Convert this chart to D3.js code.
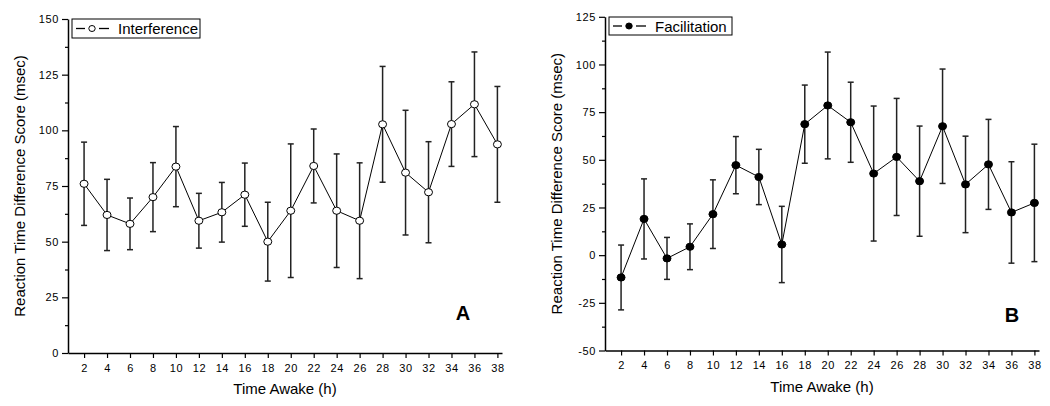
<!DOCTYPE html>
<html>
<head>
<meta charset="utf-8">
<script src="https://cdn.jsdelivr.net/npm/d3@7"></script>
<style>
  html, body { margin: 0; padding: 0; background: #fff; }
  svg { display: block; }
  text { font-family: "Liberation Sans", Arial, sans-serif; }
</style>
</head>
<body>
<svg id="chart" width="1050" height="406"></svg>
<script>
// ---- Data ----
const hours = [2,4,6,8,10,12,14,16,18,20,22,24,26,28,30,32,34,36,38];
const xTicks = [2,4,6,8,10,12,14,16,18,20,22,24,26,28,30,32,34,36,38];

const interferenceMean = [76,62,58,70,83.7,59.4,63.2,71.1,50,63.9,84,63.9,59.4,102.7,81,72.2,102.8,111.7,93.7];
const interferenceErr  = [18.7,16,11.6,15.5,18,12.3,13.4,14.2,17.7,30,16.6,25.5,26,26,28,22.7,19,23.5,26];

const facilitationMean = [-11.7,19,-1.7,4.4,21.5,47.2,41,5.6,68.7,78.5,69.7,42.8,51.5,38.8,67.6,37.1,47.6,22.4,27.4];
const facilitationErr  = [17,21,11,12,18,15,14.5,20,20.5,28,21,35.4,30.7,28.9,30,25.3,23.6,26.6,30.8];

const yTicksA = [0,25,50,75,100,125,150];
const yTicksB = [-50,-25,0,25,50,75,100,125];

const svg = d3.select("#chart");
const fmt = v => String(v); // plain hyphen for negatives, as in the reference

function panel(cfg) {
  const g = svg.append("g");
  const x = d3.scaleLinear().domain([0.6, 38.4]).range([cfg.left, cfg.left + 434]);
  const y = d3.scaleLinear().domain(cfg.yDomain).range([cfg.bottom, cfg.top]);

  // minor y ticks
  const minor = d3.range(cfg.yDomain[0], cfg.yDomain[1] + 0.01, 12.5).filter(v => !cfg.yTicks.includes(v));
  g.append("g").attr("transform", `translate(${cfg.left},0)`)
    .call(d3.axisLeft(y).tickValues(minor).tickSize(3).tickSizeOuter(0).tickFormat(""))
    .call(s => s.select(".domain").remove())
    .call(s => s.selectAll("line").attr("stroke", "#000").attr("stroke-width", 1.2));

  // y axis
  g.append("g").attr("transform", `translate(${cfg.left},0)`)
    .call(d3.axisLeft(y).tickValues(cfg.yTicks).tickSize(6).tickSizeOuter(0).tickPadding(3).tickFormat(fmt))
    .call(s => s.select(".domain").attr("stroke", "#000").attr("stroke-width", 1.5))
    .call(s => s.selectAll("line").attr("stroke", "#000").attr("stroke-width", 1.2))
    .call(s => s.selectAll("text").attr("font-size", 11).attr("fill", "#000").style("letter-spacing", "0.6px")
      .style("font-family", "'Liberation Sans', Arial, sans-serif"));

  // x axis
  g.append("g").attr("transform", `translate(0,${cfg.bottom})`)
    .call(d3.axisBottom(x).tickValues(cfg.xTicks).tickSize(5).tickSizeOuter(0).tickPadding(6).tickFormat(fmt))
    .call(s => s.select(".domain").attr("stroke", "#000").attr("stroke-width", 1.5))
    .call(s => s.selectAll("line").attr("stroke", "#000").attr("stroke-width", 1.2))
    .call(s => s.selectAll("text").attr("font-size", 11).attr("fill", "#000").style("letter-spacing", "0.6px")
      .style("font-family", "'Liberation Sans', Arial, sans-serif"));

  // axis titles
  g.append("text")
    .attr("x", cfg.left + 217).attr("y", cfg.bottom + 41)
    .attr("text-anchor", "middle").attr("font-size", 15).attr("fill", "#000")
    .text("Time Awake (h)");
  g.append("text")
    .attr("transform", `translate(${cfg.left - 43},${(cfg.top + cfg.bottom) / 2}) rotate(-90)`)
    .attr("text-anchor", "middle").attr("font-size", 15).attr("fill", "#000")
    .text("Reaction Time Difference Score (msec)");

  const data = cfg.hours.map((h, i) => ({ h, m: cfg.mean[i], e: cfg.err[i] }));

  // error bars
  const eb = g.append("g").attr("stroke", "#222").attr("stroke-width", 1.5).attr("fill", "none");
  data.forEach(d => {
    const cx = x(d.h);
    eb.append("line").attr("x1", cx).attr("x2", cx).attr("y1", y(d.m - d.e)).attr("y2", y(d.m + d.e));
    eb.append("line").attr("x1", cx - 3).attr("x2", cx + 3).attr("y1", y(d.m + d.e)).attr("y2", y(d.m + d.e));
    eb.append("line").attr("x1", cx - 3).attr("x2", cx + 3).attr("y1", y(d.m - d.e)).attr("y2", y(d.m - d.e));
  });

  // connecting line
  g.append("path").datum(data)
    .attr("fill", "none").attr("stroke", "#000").attr("stroke-width", 1)
    .attr("d", d3.line().x(d => x(d.h)).y(d => y(d.m)));

  // markers
  g.append("g").selectAll("ellipse").data(data).join("ellipse")
    .attr("cx", d => x(d.h)).attr("cy", d => y(d.m))
    .attr("rx", 4).attr("ry", 3.6)
    .attr("fill", cfg.filled ? "#000" : "#fff")
    .attr("stroke", "#000").attr("stroke-width", 1);

  // legend
  const lg = g.append("g");
  lg.append("rect").attr("x", cfg.legend.x).attr("y", cfg.legend.y)
    .attr("width", cfg.legend.w).attr("height", cfg.legend.h)
    .attr("fill", "#fff").attr("stroke", "#000").attr("stroke-width", 1);
  const ly = cfg.legend.y + cfg.legend.h / 2;
  lg.append("line").attr("x1", cfg.legend.x + 4).attr("x2", cfg.legend.x + 13)
    .attr("y1", ly).attr("y2", ly).attr("stroke", "#000").attr("stroke-width", 1.3);
  lg.append("line").attr("x1", cfg.legend.x + 27).attr("x2", cfg.legend.x + 37)
    .attr("y1", ly).attr("y2", ly).attr("stroke", "#000").attr("stroke-width", 1.3);
  lg.append("ellipse").attr("cx", cfg.legend.x + 20).attr("cy", ly).attr("rx", 3.2).attr("ry", 3)
    .attr("fill", cfg.filled ? "#000" : "#fff").attr("stroke", "#000").attr("stroke-width", 1);
  lg.append("text").attr("x", cfg.legend.x + 46).attr("y", ly + 5.5)
    .attr("font-size", 15).attr("fill", "#000").text(cfg.name);

  // panel letter
  g.append("text").attr("x", cfg.letterX).attr("y", cfg.letterY)
    .attr("text-anchor", "middle").attr("font-size", 20).attr("font-weight", "bold").attr("fill", "#000")
    .text(cfg.letter);
}

panel({
  left: 68, top: 19, bottom: 353, yDomain: [0, 150], yTicks: yTicksA, xTicks,
  hours, mean: interferenceMean, err: interferenceErr, filled: false,
  name: "Interference", legend: { x: 72, y: 19, w: 128, h: 19 },
  letter: "A", letterX: 463, letterY: 320
});

panel({
  left: 605, top: 16.8, bottom: 350.5, yDomain: [-50, 125], yTicks: yTicksB, xTicks,
  hours, mean: facilitationMean, err: facilitationErr, filled: true,
  name: "Facilitation", legend: { x: 609, y: 17, w: 123, h: 18 },
  letter: "B", letterX: 1012, letterY: 322
});
</script>
</body>
</html>
